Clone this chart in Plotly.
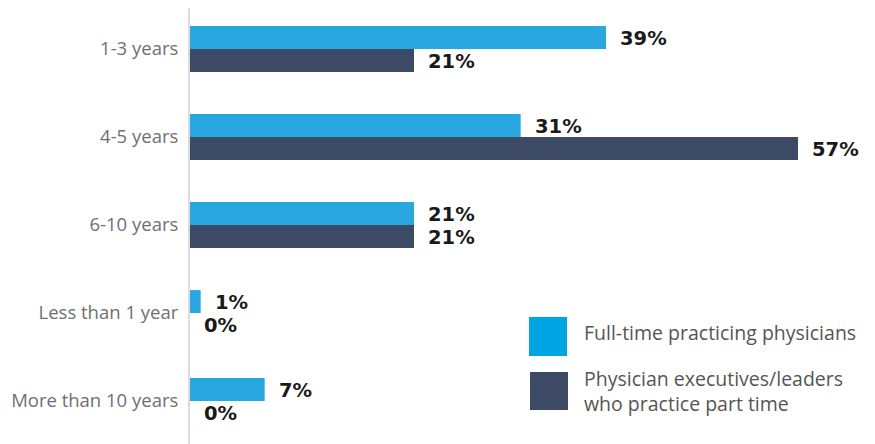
import plotly.graph_objects as go

categories = ["1-3 years", "4-5 years", "6-10 years", "Less than 1 year", "More than 10 years"]
full_time = [39, 31, 21, 1, 7]
part_time = [21, 57, 21, 0, 0]
series_names = ["Full-time practicing physicians", "Physician executives/leaders<br>who practice part time"]

LIGHT = "#29A7E0"
DARK = "#3D4A66"

OFF = 8  # default page body margin
W, H = 875 - OFF, 444 - OFF
ML, MR, MT, MB = 190 - OFF, 0, 0, 0
pw, ph = W - ML - MR, H - MT - MB
SPACING = 88.0
first_center = 49 - OFF
r_top = -first_center / SPACING
r_bot = r_top + ph / SPACING


def px_x(p):
    return (p - OFF - ML) / pw


def px_y(p):
    return (H - MB - (p - OFF)) / ph


fig = go.Figure()
fig.add_trace(go.Bar(y=list(range(len(categories))), x=full_time, orientation="h", name=series_names[0],
                     marker=dict(color=LIGHT, line=dict(width=0))))
fig.add_trace(go.Bar(y=list(range(len(categories))), x=part_time, orientation="h", name=series_names[1],
                     marker=dict(color=DARK, line=dict(width=0))))

annotations = []
bar_px = SPACING * 0.52 / 2
for vals, shift in ((full_time, bar_px / 2), (part_time, -bar_px / 2)):
    for i, v in enumerate(vals):
        annotations.append(dict(x=v, y=i, xref="x", yref="y", text=f"<b>{v}%</b>",
                                showarrow=False, xanchor="left", yanchor="middle",
                                xshift=12, yshift=shift - 1,
                                font=dict(family="DejaVu Sans, sans-serif", size=19.5, color="#1a1a1a")))

legend_font = dict(family="Open Sans, sans-serif", size=19.5, color="#555555")
annotations.append(dict(x=px_x(582), y=px_y(332), xref="paper", yref="paper", text=series_names[0],
                        showarrow=False, xanchor="left", yanchor="middle", font=legend_font, align="left"))
annotations.append(dict(x=px_x(582), y=px_y(391), xref="paper", yref="paper", text=series_names[1],
                        showarrow=False, xanchor="left", yanchor="middle", font=legend_font, align="left"))

shapes = [
    dict(type="rect", xref="paper", yref="paper", x0=px_x(529), x1=px_x(567), y0=px_y(356), y1=px_y(317),
         fillcolor="#00A6E4", line=dict(width=0)),
    dict(type="rect", xref="paper", yref="paper", x0=px_x(530), x1=px_x(568), y0=px_y(410), y1=px_y(372),
         fillcolor=DARK, line=dict(width=0)),
]

fig.update_layout(
    width=W, height=H,
    margin=dict(l=ML, r=MR, t=MT, b=MB),
    paper_bgcolor="white", plot_bgcolor="white",
    barmode="group", bargap=0.48, bargroupgap=0,
    showlegend=False,
    annotations=annotations, shapes=shapes,
    xaxis=dict(range=[0, pw / (608 / 57)], visible=False, showgrid=False, zeroline=False),
    yaxis=dict(tickmode="array", tickvals=list(range(len(categories))), ticktext=categories,
               range=[r_bot, r_top], zeroline=False,
               showline=True, linecolor="#dcdcdc", linewidth=2, ticks="", showgrid=False,
               ticklabelstandoff=6,
               tickfont=dict(family="Open Sans, sans-serif", size=18.5, color="#707070")),
)

fig.write_html("out.html")
